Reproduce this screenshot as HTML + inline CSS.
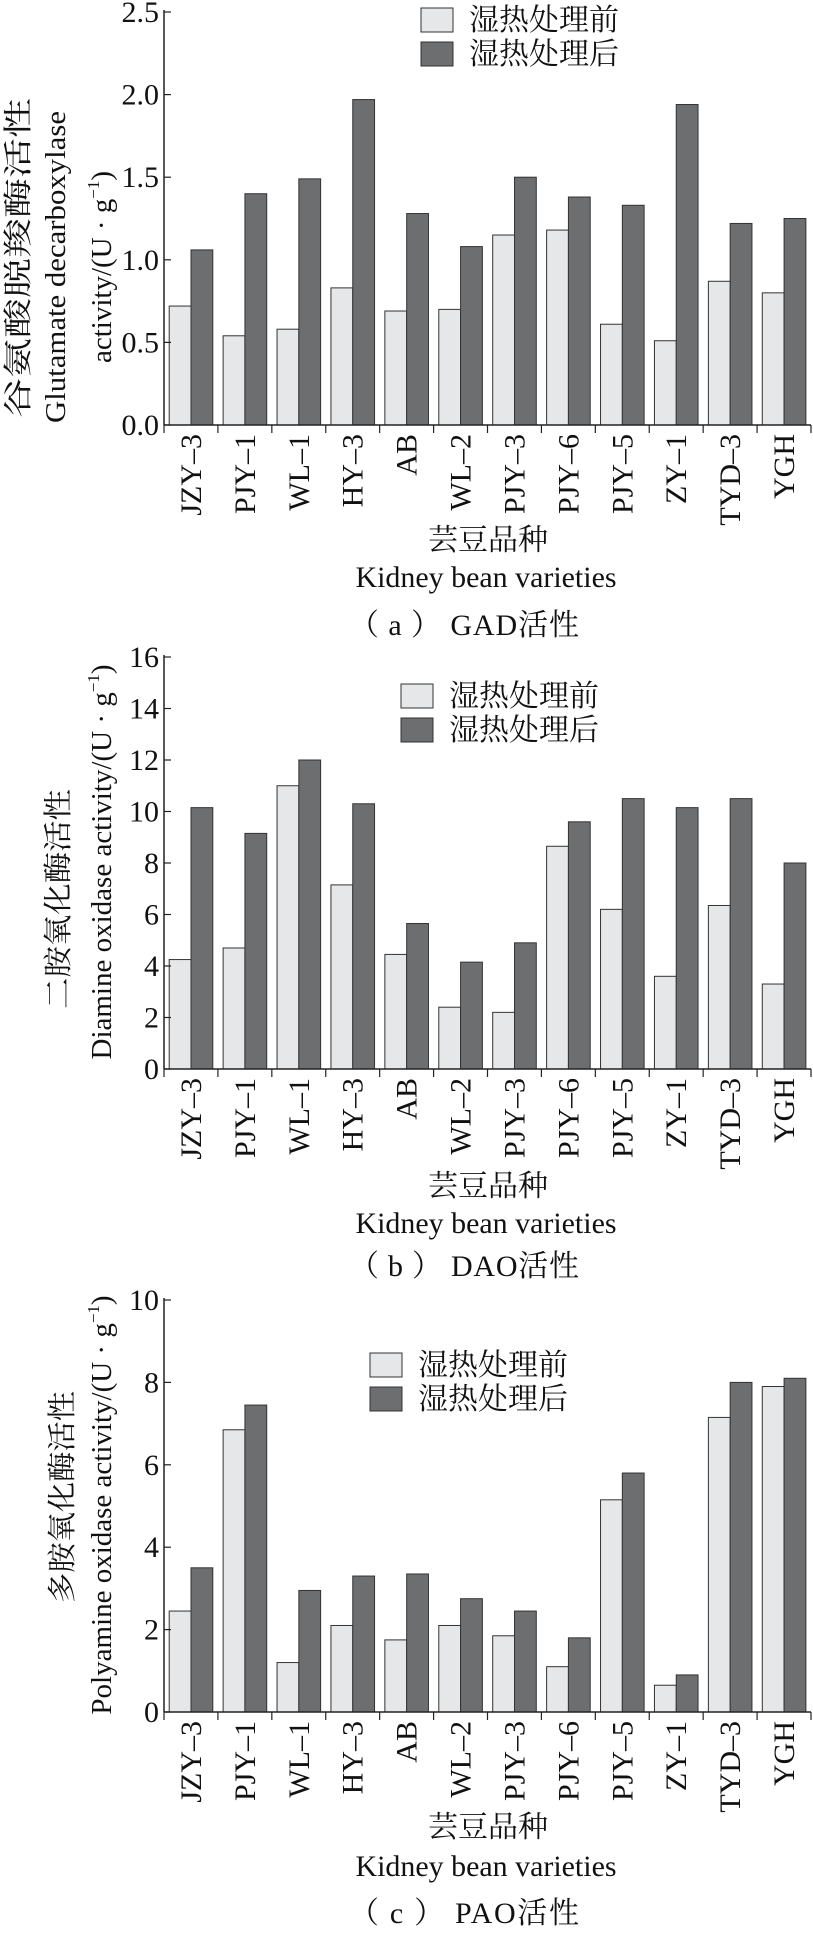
<!DOCTYPE html>
<html><head><meta charset="utf-8"><style>
html,body{margin:0;padding:0;background:#fff}
svg{display:block}
text{font-family:"Liberation Serif","Noto Serif CJK SC","Noto Sans CJK SC",serif;fill:#111}
</style></head><body>
<svg id="s" width="813" height="1938" viewBox="0 0 813 1938" xmlns="http://www.w3.org/2000/svg"></svg>
<script>
const S=document.getElementById('s');let h='';
const cats=["JZY–3","PJY–1","WL–1","HY–3","AB","WL–2","PJY–3","PJY–6","PJY–5","ZY–1","TYD–3","YGH"];
const X0=164,X1=811,GW=(X1-X0)/12;
function chart(o){
  const sc=(o.y0-o.ytop)/o.max;
  for(let i=0;i<12;i++){
    const g=X0+GW*i;
    const b=o.b[i],a=o.a[i];
    h+=`<rect x="${g+5.2}" y="${o.y0-b*sc}" width="21.8" height="${b*sc}" fill="#e6e7e9" stroke="#333" stroke-width="1"/>`;
    h+=`<rect x="${g+27}" y="${o.y0-a*sc}" width="21.8" height="${a*sc}" fill="#6d6e70" stroke="#333" stroke-width="1"/>`;
    h+=`<line x1="${g+GW}" y1="${o.y0}" x2="${g+GW}" y2="${o.y0+8}" stroke="#222" stroke-width="1.2"/>`;
    h+=`<text transform="translate(${g+GW/2+10},${o.y0+9}) rotate(-90)" text-anchor="end" font-size="30">${cats[i]}</text>`;
  }
  h+=`<line x1="${X0}" y1="${o.ytop-2}" x2="${X0}" y2="${o.y0}" stroke="#222" stroke-width="1.5"/>`;
  h+=`<line x1="${X0}" y1="${o.y0}" x2="${X1}" y2="${o.y0}" stroke="#222" stroke-width="1.5"/>`;
  h+=`<line x1="${X0}" y1="${o.y0}" x2="${X0}" y2="${o.y0+8}" stroke="#222" stroke-width="1.2"/>`;
  o.ticks.forEach((t,k)=>{const y=o.y0-t*sc;
    h+=`<line x1="${X0}" y1="${y}" x2="${X0+7}" y2="${y}" stroke="#222" stroke-width="1.2"/>`;
    h+=`<text x="159" y="${y+10}" text-anchor="end" font-size="30">${o.tl[k]}</text>`;});
  h+=`<rect x="${o.lx}" y="${o.ly}" width="32" height="24" fill="#e6e7e9" stroke="#333"/>`;
  h+=`<rect x="${o.lx}" y="${o.ly+34}" width="32" height="24" fill="#6d6e70" stroke="#333"/>`;
  h+=`<text x="${o.lx+48}" y="${o.ly+22}" font-size="30">湿热处理前</text>`;
  h+=`<text x="${o.lx+48}" y="${o.ly+56}" font-size="30">湿热处理后</text>`;
  h+=`<text x="488" y="${o.t1+10}" text-anchor="middle" font-size="30">芸豆品种</text>`;
  h+=`<text x="486" y="${o.t2+10}" text-anchor="middle" font-size="30" textLength="261" lengthAdjust="spacingAndGlyphs">Kidney bean varieties</text>`;
  h+=`<text x="464" y="${o.t3+10}" text-anchor="middle" font-size="30" textLength="230">（ ${o.cap[0]} ） ${o.cap[1]}活性</text>`;
  o.yl.forEach(l=>{const tl=l[3]?` textLength="${l[3]}" lengthAdjust="spacingAndGlyphs"`:'';
    h+=`<text transform="translate(${l[0]+10},${l[1]}) rotate(-90)" text-anchor="middle" font-size="29"${tl}>${l[2]}</text>`;});
}
const sup='U · g<tspan font-size="17" dy="-12">−1</tspan><tspan dy="12">)</tspan>';
chart({y0:425,ytop:12,max:2.5,ticks:[0,.5,1,1.5,2,2.5],tl:["0.0","0.5","1.0","1.5","2.0","2.5"],
 b:[.72,.54,.58,.83,.69,.70,1.15,1.18,.61,.51,.87,.80],
 a:[1.06,1.40,1.49,1.97,1.28,1.08,1.50,1.38,1.33,1.94,1.22,1.25],
 lx:421,ly:8,t1:540,t2:577,t3:625,cap:["a","GAD"],
 yl:[[18,258,"谷氨酸脱羧酶活性",320],[55,267,"Glutamate decarboxylase",312],[101,267,"activity/("+sup]]});
chart({y0:1069,ytop:657,max:16,ticks:[0,2,4,6,8,10,12,14,16],tl:["0","2","4","6","8","10","12","14","16"],
 b:[4.25,4.7,11,7.15,4.45,2.4,2.2,8.65,6.2,3.6,6.35,3.3],
 a:[10.15,9.15,12,10.3,5.65,4.15,4.9,9.6,10.5,10.15,10.5,8.0],
 lx:401,ly:684,t1:1186,t2:1223,t3:1266,cap:["b","DAO"],
 yl:[[58,899,"二胺氧化酶活性",220],[101,862,"Diamine oxidase activity/("+sup]]});
chart({y0:1712,ytop:1300,max:10,ticks:[0,2,4,6,8,10],tl:["0","2","4","6","8","10"],
 b:[2.45,6.85,1.2,2.1,1.75,2.1,1.85,1.1,5.15,.65,7.15,7.9],
 a:[3.5,7.45,2.95,3.3,3.35,2.75,2.45,1.8,5.8,.9,8.0,8.1],
 lx:370,ly:1353,t1:1827,t2:1866,t3:1913,cap:["c","PAO"],
 yl:[[62,1497,"多胺氧化酶活性",212],[101,1505,"Polyamine oxidase activity/("+sup]]});
S.innerHTML=h;
</script>
</body></html>
